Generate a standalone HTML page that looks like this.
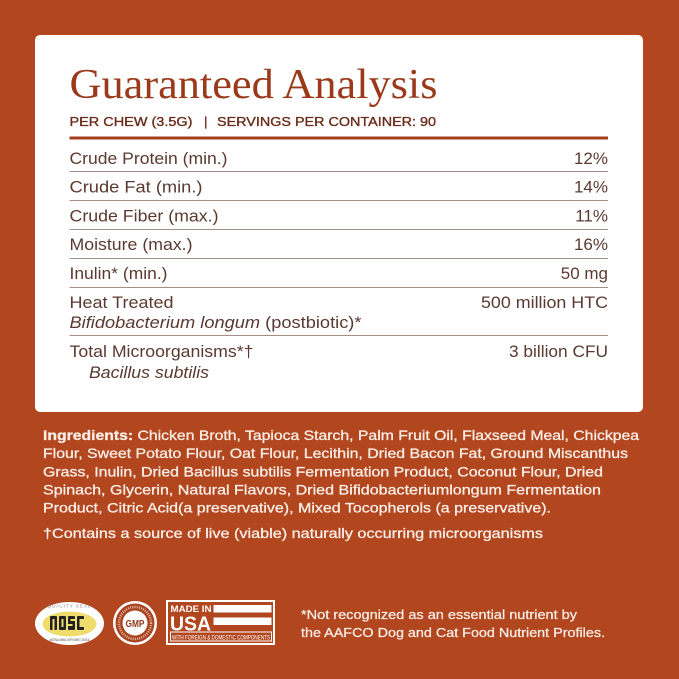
<!DOCTYPE html>
<html>
<head>
<meta charset="utf-8">
<style>
html,body{margin:0;padding:0;background:#b1461f;}
svg{display:block;}
</style>
</head>
<body>
<svg width="679" height="679" viewBox="0 0 679 679" xmlns="http://www.w3.org/2000/svg">
  <rect x="0" y="0" width="679" height="679" fill="#b1461f"/>
  <!-- card -->
  <rect x="35" y="35" width="608" height="377" rx="5" ry="5" fill="#ffffff"/>

  <!-- title -->
  <text x="69.5" y="98" font-family="Liberation Serif, serif" font-size="42" fill="#9a3a1b" textLength="368" lengthAdjust="spacingAndGlyphs">Guaranteed Analysis</text>
  <g font-family="Liberation Sans, sans-serif" font-size="13" fill="#6a2c1a" stroke="#6a2c1a" stroke-width="0.35">
    <text x="69.5" y="126" textLength="123" lengthAdjust="spacingAndGlyphs">PER CHEW (3.5G)</text>
    <text x="204" y="126">|</text>
    <text x="217" y="126" textLength="219" lengthAdjust="spacingAndGlyphs">SERVINGS PER CONTAINER: 90</text>
  </g>
  <rect x="69.5" y="136.5" width="538.5" height="3" fill="#a3401c"/>

  <!-- rows -->
  <g font-family="Liberation Sans, sans-serif" font-size="17" fill="#5a3a30">
    <text x="69.5" y="164" textLength="158" lengthAdjust="spacingAndGlyphs">Crude Protein (min.)</text>
    <text x="608" y="164" text-anchor="end">12%</text>
    <text x="69.5" y="192.7" textLength="133" lengthAdjust="spacingAndGlyphs">Crude Fat (min.)</text>
    <text x="608" y="192.7" text-anchor="end">14%</text>
    <text x="69.5" y="221.4" textLength="149" lengthAdjust="spacingAndGlyphs">Crude Fiber (max.)</text>
    <text x="608" y="221.4" text-anchor="end">11%</text>
    <text x="69.5" y="250" textLength="123" lengthAdjust="spacingAndGlyphs">Moisture (max.)</text>
    <text x="608" y="250" text-anchor="end">16%</text>
    <text x="69.5" y="279" textLength="98" lengthAdjust="spacingAndGlyphs">Inulin* (min.)</text>
    <text x="608" y="279" text-anchor="end">50 mg</text>
    <text x="69.5" y="308" textLength="104" lengthAdjust="spacingAndGlyphs">Heat Treated</text>
    <text x="69.5" y="328" textLength="292" lengthAdjust="spacingAndGlyphs"><tspan font-style="italic">Bifidobacterium longum</tspan> (postbiotic)*</text>
    <text x="608" y="308" text-anchor="end" textLength="127" lengthAdjust="spacingAndGlyphs">500 million HTC</text>
    <text x="69.5" y="357" textLength="184" lengthAdjust="spacingAndGlyphs">Total Microorganisms*†</text>
    <text x="89" y="378" font-style="italic" textLength="120" lengthAdjust="spacingAndGlyphs">Bacillus subtilis</text>
    <text x="608" y="357" text-anchor="end" textLength="99" lengthAdjust="spacingAndGlyphs">3 billion CFU</text>
  </g>
  <g fill="#a58e86">
    <rect x="69.5" y="171" width="538.5" height="1"/>
    <rect x="69.5" y="200" width="538.5" height="1"/>
    <rect x="69.5" y="229" width="538.5" height="1"/>
    <rect x="69.5" y="258" width="538.5" height="1"/>
    <rect x="69.5" y="287" width="538.5" height="1"/>
    <rect x="69.5" y="335" width="538.5" height="1"/>
  </g>

  <!-- ingredients -->
  <g font-family="Liberation Sans, sans-serif" font-size="14" fill="#fbeee6" stroke="#fbeee6" stroke-width="0.3">
    <text x="43" y="440" textLength="596" lengthAdjust="spacingAndGlyphs"><tspan font-weight="bold">Ingredients:</tspan> Chicken Broth, Tapioca Starch, Palm Fruit Oil, Flaxseed Meal, Chickpea</text>
    <text x="43" y="458" textLength="585" lengthAdjust="spacingAndGlyphs">Flour, Sweet Potato Flour, Oat Flour, Lecithin, Dried Bacon Fat, Ground Miscanthus</text>
    <text x="43" y="476.5" textLength="560" lengthAdjust="spacingAndGlyphs">Grass, Inulin, Dried Bacillus subtilis Fermentation Product, Coconut Flour, Dried</text>
    <text x="43" y="494.5" textLength="558" lengthAdjust="spacingAndGlyphs">Spinach, Glycerin, Natural Flavors, Dried Bifidobacteriumlongum Fermentation</text>
    <text x="43" y="512.5" textLength="508" lengthAdjust="spacingAndGlyphs">Product, Citric Acid(a preservative), Mixed Tocopherols (a preservative).</text>
    <text x="43" y="538" textLength="500" lengthAdjust="spacingAndGlyphs">†Contains a source of live (viable) naturally occurring microorganisms</text>
  </g>

  <!-- NASC logo -->
  <ellipse cx="69.5" cy="623.5" rx="34.5" ry="21.5" fill="#ffffff"/>
  <ellipse cx="69.5" cy="624" rx="27" ry="12.5" fill="#efdc6c"/>
  <text x="69.5" y="607.5" text-anchor="middle" font-family="Liberation Sans, sans-serif" font-size="4.5" fill="#888" letter-spacing="1">QUALITY SEAL</text>
  <g fill="#222">
    <rect x="50" y="616" width="7" height="14" rx="1"/>
    <rect x="59" y="616" width="7" height="14" rx="1"/>
    <rect x="68" y="616" width="7" height="14" rx="1"/>
    <rect x="77" y="616" width="7" height="14" rx="1"/>
  </g>
  <g fill="#efdc6c">
    <rect x="52.5" y="619" width="2" height="11"/>
    <rect x="61.5" y="619" width="2" height="8"/>
    <rect x="70.5" y="619" width="4.5" height="2"/>
    <rect x="68" y="624" width="4.5" height="2"/>
    <rect x="79.5" y="619" width="4.5" height="8"/>
  </g>
  <text x="69.5" y="641" text-anchor="middle" font-family="Liberation Sans, sans-serif" font-size="3.5" fill="#444" textLength="40" lengthAdjust="spacingAndGlyphs">NATIONAL ANIMAL SUPPLEMENT COUNCIL</text>

  <!-- GMP logo -->
  <circle cx="135" cy="623" r="22" fill="#ffffff"/>
  <circle cx="135" cy="623" r="19.5" fill="#a9431f"/>
  <circle cx="135" cy="623" r="12.5" fill="#ffffff"/>
  <text x="135" y="627" text-anchor="middle" font-family="Liberation Sans, sans-serif" font-size="10" font-weight="bold" fill="#8f3a1d" textLength="19" lengthAdjust="spacingAndGlyphs">GMP</text>
  <circle cx="135" cy="623" r="16" fill="none" stroke="#f3d9cc" stroke-width="2.5" stroke-dasharray="1 1.2" opacity="0.8"/>

  <!-- Made in USA -->
  <rect x="167" y="601" width="107" height="43" fill="none" stroke="#ffffff" stroke-width="2"/>
  <text x="170.5" y="612" font-family="Liberation Sans, sans-serif" font-size="9" font-weight="bold" fill="#ffffff" textLength="41" lengthAdjust="spacingAndGlyphs">MADE IN</text>
  <text x="170" y="630.5" font-family="Liberation Sans, sans-serif" font-size="20" font-weight="bold" fill="#ffffff" textLength="41" lengthAdjust="spacingAndGlyphs">USA</text>
  <rect x="213.5" y="605" width="58" height="7.5" fill="#ffffff"/>
  <rect x="213.5" y="617.5" width="58" height="7.5" fill="#ffffff"/>
  <rect x="170.5" y="632" width="101" height="9" fill="none" stroke="#ffffff" stroke-width="1"/>
  <text x="172" y="639.5" font-family="Liberation Sans, sans-serif" font-size="6.5" fill="#ffffff" textLength="98" lengthAdjust="spacingAndGlyphs">WITH FOREIGN &amp; DOMESTIC COMPONENTS</text>

  <!-- footnote -->
  <g font-family="Liberation Sans, sans-serif" font-size="12.5" fill="#fbeee6" stroke="#fbeee6" stroke-width="0.25">
    <text x="301" y="619" textLength="276" lengthAdjust="spacingAndGlyphs">*Not recognized as an essential nutrient by</text>
    <text x="301" y="637" textLength="304" lengthAdjust="spacingAndGlyphs">the AAFCO Dog and Cat Food Nutrient Profiles.</text>
  </g>
</svg>
</body>
</html>
